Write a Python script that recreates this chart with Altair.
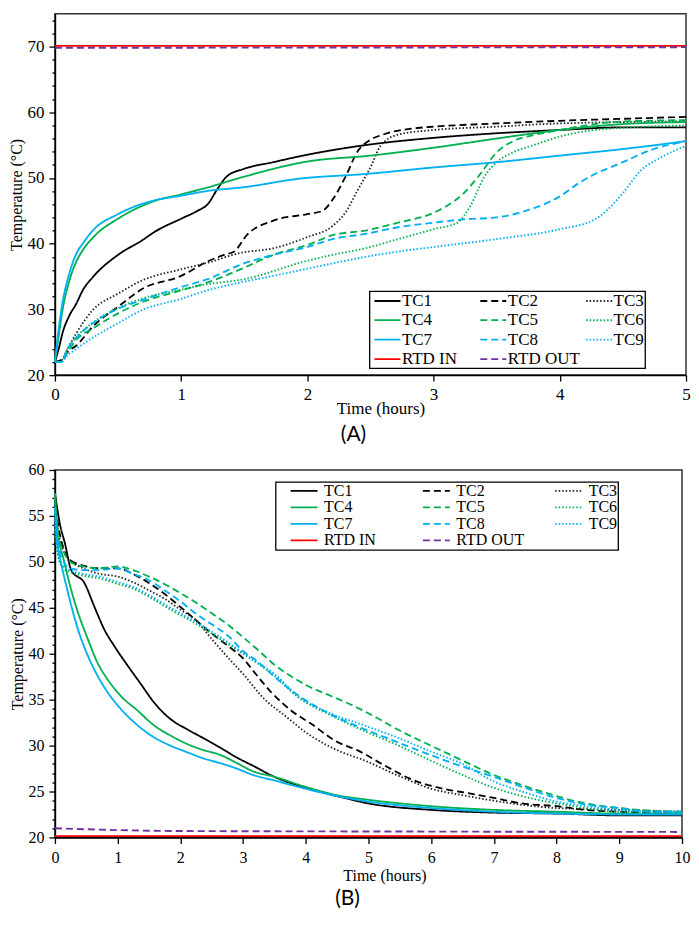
import altair as alt
import pandas as pd

SERIES = ["TC1", "TC2", "TC3", "TC4", "TC5", "TC6", "TC7", "TC8", "TC9", "RTD IN", "RTD OUT"]
COLORS = ["#000000", "#000000", "#222222", "#00B050", "#00B050", "#00B050",
          "#00B0F0", "#00B0F0", "#00B0F0", "#FF0000", "#7030A0"]
DASHES = [[1, 0], [7, 4], [1.5, 2], [1, 0], [7, 4], [1.5, 2],
          [1, 0], [7, 4], [1.5, 2], [1, 0], [7, 4]]
WIDTHS = [1.8, 1.9, 1.4, 1.8, 1.9, 1.4, 1.8, 1.9, 1.4, 2.0, 1.8]

# ---------- (A) charging: (time h, temperature C) ----------
a_tc1 = [(0, 22), (0.03, 24), (0.06, 26.4), (0.11, 28.9), (0.17, 30.9), (0.22, 32.9), (0.3, 34.9),
         (0.5, 38.3), (0.69, 40.5), (0.79, 41.8), (1.0, 43.8), (1.13, 45), (1.21, 46), (1.29, 48.4),
         (1.36, 50.2), (1.5, 51.4), (1.73, 52.4), (1.94, 53.3), (2.46, 55), (3.0, 56.1), (3.5, 56.8),
         (4.0, 57.3), (4.5, 57.7), (5.0, 57.7)]
a_tc2 = [(0, 22), (0.05, 22.3), (0.1, 23.5), (0.17, 24.5), (0.3, 27.4), (0.5, 30.4), (0.69, 33.1),
         (1.0, 35.1), (1.21, 37.3), (1.34, 38.3), (1.42, 38.8), (1.52, 41.3), (1.73, 43.5), (2.0, 44.5),
         (2.12, 45), (2.2, 46.7), (2.3, 50.1), (2.4, 54.1), (2.5, 55.8), (2.6, 56.6), (2.87, 57.6),
         (3.0, 57.8), (3.5, 58.3), (4.0, 58.7), (4.5, 59), (5.0, 59.3)]
a_tc3 = [(0, 22), (0.05, 22.2), (0.1, 24), (0.17, 26.4), (0.3, 29.9), (0.5, 32.4), (0.69, 34.4),
         (1.0, 36.1), (1.21, 37.1), (1.47, 38.6), (1.73, 39.3), (2.0, 41), (2.2, 42.7), (2.3, 44.7),
         (2.4, 48.2), (2.5, 51.6), (2.58, 54.9), (2.72, 56.6), (3.0, 57.3), (3.5, 57.8), (4.0, 58.3),
         (5.0, 58.6)]
a_tc4 = [(0, 22), (0.03, 26), (0.06, 29.9), (0.115, 34.4), (0.17, 37.3), (0.22, 39), (0.32, 41.3),
         (0.5, 43.8), (0.79, 46.5), (1.0, 47.5), (1.2, 48.5), (1.5, 50.2), (2.0, 52.5), (2.5, 53.4),
         (3.0, 54.6), (3.5, 56), (4.0, 57.3), (4.5, 58.2), (5.0, 58.5)]
a_tc5 = [(0, 22), (0.05, 22), (0.1, 23.5), (0.17, 25.4), (0.3, 27.1), (0.5, 29.4), (0.69, 31.1),
         (1.0, 32.9), (1.21, 34.1), (1.47, 36.1), (1.73, 38.3), (2.0, 39.8), (2.2, 41.3), (2.46, 42),
         (2.72, 43.2), (3.0, 44.7), (3.1, 45.7), (3.24, 47.7), (3.37, 50.6), (3.5, 53.9), (3.63, 55.6),
         (3.81, 56.6), (4.0, 57.3), (4.5, 58.6), (5.0, 58.8)]
a_tc6 = [(0, 22), (0.05, 22), (0.1, 24), (0.17, 25.8), (0.3, 28), (0.5, 30.2), (0.7, 31.7),
         (1.0, 33), (1.2, 33.8), (1.5, 34.6), (2.0, 37.4), (2.2, 38.3), (2.46, 39.3), (2.72, 40.7),
         (3.0, 42.2), (3.19, 43.2), (3.29, 45.7), (3.4, 50.1), (3.5, 52.4), (3.63, 53.9), (3.81, 55.1),
         (4.0, 56.3), (4.28, 57.3), (5.0, 58)]
a_tc7 = [(0, 22), (0.03, 27), (0.06, 31), (0.115, 35.5), (0.17, 38.5), (0.22, 40), (0.3, 42),
         (0.5, 44.5), (0.79, 46.6), (1.0, 47.3), (1.2, 48), (1.5, 48.6), (1.94, 49.9), (2.46, 50.6),
         (3.0, 51.6), (3.5, 52.4), (4.0, 53.4), (4.5, 54.4), (5.0, 55.6)]
a_tc8 = [(0, 22), (0.05, 22), (0.1, 24), (0.17, 25.7), (0.3, 27.9), (0.5, 30.1), (0.69, 31.4),
         (1.0, 33.4), (1.21, 34.6), (1.47, 36.8), (1.73, 38.3), (2.0, 39.5), (2.2, 40.7), (2.46, 41.5),
         (2.72, 42.5), (3.0, 43.2), (3.24, 43.7), (3.5, 44), (3.73, 45), (4.0, 47.2), (4.15, 49.2),
         (4.28, 50.6), (4.5, 52.4), (4.7, 54.1), (5.0, 55.6)]
a_tc9 = [(0, 22), (0.05, 22), (0.1, 23), (0.17, 24), (0.3, 25.7), (0.5, 27.9), (0.69, 29.9),
         (1.0, 31.6), (1.21, 32.9), (1.47, 34.1), (1.73, 35.1), (2.0, 36.2), (2.2, 37), (2.46, 38),
         (2.72, 38.8), (3.0, 39.5), (3.5, 40.7), (4.0, 42.2), (4.28, 43.7), (4.38, 45.2), (4.5, 47.7),
         (4.64, 51.1), (4.8, 53.1), (5.0, 54.9)]
a_rtd_in = [(0, 70.1), (5.0, 70.1)]
a_rtd_out = [(0, 69.8), (5.0, 69.9)]

# ---------- (B) discharging ----------
b_tc1 = [(0, 57.5), (0.08, 54.1), (0.16, 52), (0.26, 49.1), (0.47, 47.7), (0.63, 45.1), (0.79, 42.6),
         (0.95, 40.8), (1.16, 38.7), (1.37, 36.7), (1.58, 34.7), (1.84, 32.9), (2.1, 31.8), (2.37, 30.8),
         (2.63, 29.8), (2.9, 28.7), (3.16, 27.8), (3.5, 26.6), (4.0, 25.4), (4.5, 24.5), (5.0, 23.7),
         (6.0, 23.0), (7.0, 22.7), (8.0, 22.6), (9.0, 22.4), (10.0, 22.4)]
b_tc2 = [(0, 57), (0.05, 54.1), (0.13, 51.6), (0.24, 50.2), (0.45, 49.6), (0.71, 49.3), (1.0, 49.3),
         (1.24, 48.7), (1.5, 47.7), (1.77, 46.4), (2.0, 45.1), (2.24, 43.7), (2.5, 42.2), (2.77, 40.8),
         (3.0, 39.5), (3.19, 37.9), (3.45, 35.8), (3.77, 33.8), (4.08, 32.4), (4.5, 30.4), (4.82, 29.5),
         (5.24, 27.9), (5.66, 26.4), (6.19, 25.3), (6.61, 24.8), (7.0, 24.3), (7.45, 23.7), (8.0, 23.4),
         (8.46, 23), (9.0, 22.8), (10.0, 22.6)]
b_tc3 = [(0, 56), (0.05, 53.4), (0.13, 51.3), (0.24, 50.2), (0.45, 49.3), (0.71, 48.7), (1.0, 48.4),
         (1.24, 47.8), (1.5, 46.9), (1.77, 45.9), (2.0, 44.8), (2.24, 43.7), (2.5, 41.6), (2.77, 39.5),
         (3.0, 37.8), (3.35, 35), (3.66, 33.3), (4.03, 31.3), (4.5, 29.5), (4.93, 28.4), (5.45, 26.8),
         (6.0, 25.3), (6.5, 24.6), (7.0, 24), (8.0, 23.2), (9.0, 23), (10.0, 22.8)]
b_tc4 = [(0, 57.5), (0.05, 53), (0.13, 50.5), (0.32, 45.5), (0.53, 41.5), (0.68, 39.0), (0.84, 37.2),
         (1.05, 35.4), (1.32, 33.8), (1.58, 32.2), (1.84, 31.1), (2.1, 30.2), (2.37, 29.5), (2.63, 29.0),
         (2.9, 28.1), (3.16, 27.2), (3.5, 26.6), (4.0, 25.5), (4.5, 24.6), (5.0, 24.1), (6.0, 23.4),
         (7.0, 23.0), (8.0, 22.8), (9.0, 22.6), (10.0, 22.6)]
b_tc5 = [(0, 57), (0.05, 53), (0.13, 51.3), (0.24, 50), (0.45, 49.5), (0.71, 49.3), (1.0, 49.5),
         (1.24, 49.1), (1.5, 48.4), (1.77, 47.5), (2.0, 46.6), (2.24, 45.6), (2.5, 44.4), (2.77, 43.1),
         (3.0, 41.8), (3.24, 40.4), (3.5, 38.8), (3.8, 37.4), (4.0, 36.6), (4.4, 35.4), (4.77, 34.3),
         (5.14, 33.0), (5.45, 31.8), (5.87, 30.4), (6.24, 29.2), (6.61, 28.0), (7.0, 26.8), (7.45, 25.7),
         (8.0, 24.5), (8.46, 23.7), (9.0, 23.2), (9.5, 22.9), (10.0, 22.8)]
b_tc6 = [(0, 53.5), (0.05, 50.6), (0.13, 49.3), (0.24, 48.9), (0.45, 48.5), (0.71, 48.2), (1.0, 47.6),
         (1.24, 47.1), (1.5, 46.2), (1.77, 45.1), (2.0, 44.2), (2.24, 43.3), (2.5, 42.2), (2.77, 41.0),
         (3.0, 40.0), (3.24, 38.9), (3.5, 37.6), (3.87, 35.3), (4.4, 33.3), (4.93, 31.6), (5.45, 30.1),
         (5.98, 28.4), (6.5, 26.8), (7.0, 25.4), (7.45, 24.5), (8.0, 23.7), (8.46, 23.2), (9.0, 22.8),
         (10.0, 22.8)]
b_tc7 = [(0, 55.6), (0.04, 52.0), (0.08, 50.5), (0.21, 46.6), (0.37, 42.6), (0.53, 39.7), (0.68, 37.6),
         (0.84, 35.8), (1.05, 34.0), (1.32, 32.2), (1.58, 30.9), (1.84, 30.0), (2.1, 29.3), (2.37, 28.6),
         (2.63, 28.1), (2.9, 27.5), (3.16, 26.8), (3.5, 26.2), (4.0, 25.3), (4.5, 24.5), (5.0, 23.9),
         (6.0, 23.2), (7.0, 22.8), (8.0, 22.6), (9.0, 22.5), (10.0, 22.5)]
b_tc8 = [(0, 56), (0.05, 52), (0.13, 50.2), (0.24, 49.3), (0.45, 49.1), (0.71, 49.1), (1.0, 49.3),
         (1.24, 48.7), (1.5, 48), (1.77, 46.8), (2.0, 45.7), (2.24, 44.4), (2.5, 43.2), (2.77, 41.9),
         (3.0, 40.3), (3.24, 39.1), (3.5, 37.5), (3.87, 35.5), (4.4, 33.4), (4.93, 31.8), (5.45, 30.4),
         (5.98, 29.0), (6.5, 27.7), (7.0, 26.6), (7.45, 25.5), (8.0, 24.3), (8.46, 23.6), (9.0, 23.2),
         (9.5, 22.8), (10.0, 22.8)]
b_tc9 = [(0, 54), (0.05, 50.9), (0.13, 49.5), (0.24, 49.1), (0.45, 48.7), (0.71, 48.4), (1.0, 47.8),
         (1.24, 47.3), (1.5, 46.4), (1.77, 45.3), (2.0, 44.4), (2.24, 43.5), (2.5, 42.4), (2.77, 41.2),
         (3.0, 40.1), (3.24, 39), (3.5, 37.8), (3.87, 35.4), (4.4, 33.5), (4.93, 32.2), (5.45, 30.9),
         (5.98, 29.4), (6.5, 28.0), (7.0, 26.1), (7.45, 25), (8.0, 23.9), (8.46, 23.4), (9.0, 23),
         (10.0, 22.7)]
b_rtd_in = [(0, 20.15), (10.0, 20.15)]
b_rtd_out = [(0, 21.0), (1.0, 20.8), (2.0, 20.7), (5.0, 20.65), (10.0, 20.6)]

A_DATA = [a_tc1, a_tc2, a_tc3, a_tc4, a_tc5, a_tc6, a_tc7, a_tc8, a_tc9, a_rtd_in, a_rtd_out]
B_DATA = [b_tc1, b_tc2, b_tc3, b_tc4, b_tc5, b_tc6, b_tc7, b_tc8, b_tc9, b_rtd_in, b_rtd_out]

A_XTICKS = [i * 0.5 for i in range(11)]
A_YTICKS = list(range(20, 75, 2))
B_XTICKS = [i * 0.5 for i in range(21)]
B_YTICKS = list(range(20, 61, 1))


def frame(series_data):
    rows = []
    for name, pts in zip(SERIES, series_data):
        for t, v in pts:
            rows.append({"series": name, "t": t, "T": v})
    return pd.DataFrame(rows)


SERIF = "Liberation Serif"


def panel(df, xdom, ydom, xticks, yticks, xmaj, ymaj, w, h, fs, legend, title, tdx, toff, xtx,
          xlabpad, xtitlepad):
    xaxis = alt.Axis(
        values=xticks, title="Time (hours)", grid=False, format="d",
        labelExpr=f"datum.value % {xmaj} === 0 ? datum.label : ''",
        tickSize={"condition": {"test": f"datum.value % {xmaj} === 0", "value": 6}, "value": 3},
        labelOverlap=False, labelFlush=False, labelFont=SERIF, labelFontSize=fs,
        labelColor="black", labelPadding=xlabpad, titleFont=SERIF, titleFontSize=fs,
        titleFontWeight="normal", titleColor="black", titlePadding=xtitlepad, titleX=xtx,
        domainColor="black", domainWidth=1.5, tickColor="black", tickWidth=1.3)
    yaxis = alt.Axis(
        values=yticks, title="Temperature (°C)", grid=False, format="d",
        labelExpr=f"datum.value % {ymaj} === 0 ? datum.label : ''",
        tickSize={"condition": {"test": f"datum.value % {ymaj} === 0", "value": 6}, "value": 3},
        labelOverlap=False, labelFlush=False, labelFont=SERIF, labelFontSize=fs,
        labelColor="black", labelPadding=5, titleFont=SERIF, titleFontSize=16,
        titleFontWeight="normal", titleColor="black", titlePadding=2,
        domainColor="black", domainWidth=1.5, tickColor="black", tickWidth=1.3)
    return alt.Chart(df).mark_line(interpolate="monotone").encode(
        x=alt.X("t:Q", scale=alt.Scale(domain=xdom, nice=False, zero=False), axis=xaxis),
        y=alt.Y("T:Q", scale=alt.Scale(domain=ydom, nice=False, zero=False), axis=yaxis),
        color=alt.Color("series:N", scale=alt.Scale(domain=SERIES, range=COLORS), legend=legend),
        strokeDash=alt.StrokeDash("series:N", scale=alt.Scale(domain=SERIES, range=DASHES),
                                  legend=legend),
        strokeWidth=alt.StrokeWidth("series:N", scale=alt.Scale(domain=SERIES, range=WIDTHS),
                                    legend=None),
        order=alt.Order("t:Q"),
    ).properties(
        width=w, height=h,
        title=alt.TitleParams(title, orient="bottom", font="Lato", fontSize=21,
                              fontWeight="normal", color="black", dx=tdx, offset=toff),
    )


legend_a = alt.Legend(
    orient="none", legendX=315, legendY=278, columns=3, direction="horizontal",
    symbolType="M-2.1667,0H2.1667", symbolSize=144, symbolStrokeWidth=2,
    symbolOffset=8.5, labelOffset=6,
    labelFont=SERIF, labelFontSize=17, labelColor="black", rowPadding=1.5, columnPadding=2,
    padding=1, strokeColor="black", fillColor="white", title=None, gridAlign="all")
legend_b = alt.Legend(
    orient="none", legendX=221, legendY=12, columns=3, direction="horizontal",
    symbolType="M-2.25,0H2.25", symbolSize=144, symbolStrokeWidth=2,
    symbolOffset=19.5, labelOffset=12,
    labelFont=SERIF, labelFontSize=16, labelColor="black", rowPadding=0.5, columnPadding=16.5,
    padding=1, strokeColor="black", fillColor="white", title=None, gridAlign="all")

top = panel(frame(A_DATA), [0, 5], [20, 75], A_XTICKS, A_YTICKS, 1, 10, 632, 362, 17,
            legend_a, "(A)", -17, 8, 326, 5, -2)
bottom = panel(frame(B_DATA), [0, 10], [20, 60], B_XTICKS, B_YTICKS, 1, 5, 628, 368, 16,
               legend_b, "(B)", -21, 5, 330, 6, 2)

chart = alt.vconcat(top, bottom, spacing=15).resolve_scale(
    color="independent", strokeDash="independent", strokeWidth="independent",
    x="independent", y="independent"
).resolve_legend(color="independent", strokeDash="independent").properties(
    padding={"left": 0, "top": 1, "right": 0, "bottom": 0}
).configure(
    font=SERIF, style={"guide-label": {"font": SERIF}}
).configure_view(
    stroke="#333333", strokeWidth=1.5
).configure_legend(strokeWidth=1.3, labelFont=SERIF).configure_axis(labelFont=SERIF)

chart.save("out.html", embed_options={"renderer": "svg", "actions": False})
